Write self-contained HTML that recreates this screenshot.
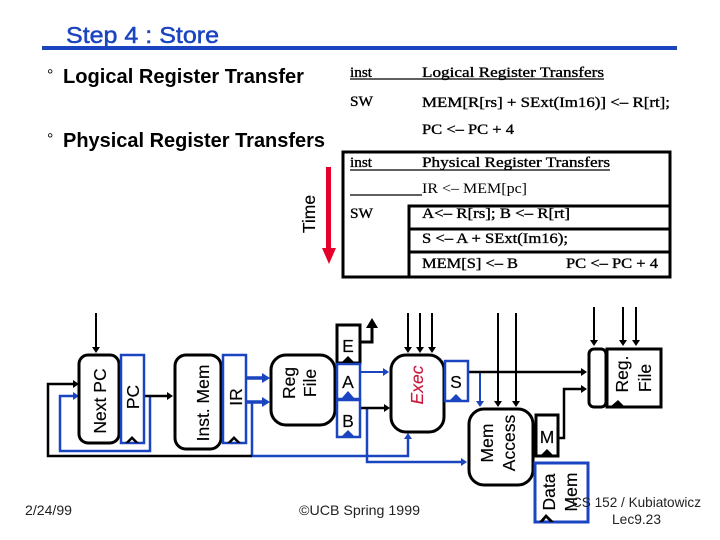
<!DOCTYPE html>
<html><head><meta charset="utf-8"><style>
html,body{margin:0;padding:0;background:#fff}
svg{display:block}
text{font-family:"Liberation Sans",sans-serif;fill:#000}
.t{font-family:"Liberation Serif",serif;font-size:14.5px;stroke:#000;stroke-width:.35}
.r{font-size:17.5px;text-anchor:middle;stroke:#000;stroke-width:.15}
.f{font-size:14px;fill:#222}
.k{fill:none;stroke:#000}
.b{fill:none;stroke:#1a44c0}
</style></head><body>
<svg width="720" height="540" viewBox="0 0 720 540" xmlns="http://www.w3.org/2000/svg">
<rect width="720" height="540" fill="#fff"/>
<text x="66" y="43" font-size="23.5" textLength="153" lengthAdjust="spacingAndGlyphs" style="fill:#1a44c0;stroke:#1a44c0;stroke-width:.5">Step 4 : Store</text>
<rect x="42" y="46" width="635" height="4" fill="#1a44c0"/>
<text x="47" y="80" font-size="16">°</text>
<text x="63" y="83" font-size="20" font-weight="bold" textLength="241" lengthAdjust="spacingAndGlyphs">Logical Register Transfer</text>
<text x="47" y="144" font-size="16">°</text>
<text x="63" y="147" font-size="20" font-weight="bold" textLength="262" lengthAdjust="spacingAndGlyphs">Physical Register Transfers</text>

<text class="t" x="350" y="77" textLength="22" lengthAdjust="spacingAndGlyphs">inst</text>
<text class="t" x="422" y="77" textLength="182" lengthAdjust="spacingAndGlyphs">Logical Register Transfers</text>
<line x1="350" y1="79" x2="604" y2="79" stroke="#000" stroke-width="1.2"/>
<text class="t" x="350" y="106" textLength="23" lengthAdjust="spacingAndGlyphs">SW</text>
<text class="t" x="422" y="107" textLength="248" lengthAdjust="spacingAndGlyphs">MEM[R[rs] + SExt(Im16)] &lt;– R[rt];</text>
<text class="t" x="422" y="134" textLength="92" lengthAdjust="spacingAndGlyphs">PC &lt;– PC + 4</text>

<g stroke="#000" stroke-width="3" fill="none">
<rect x="343" y="152" width="327" height="125"/>
<path d="M409 277V206H670M409 229H670M409 252H670"/>
</g>
<text class="t" x="350" y="167" textLength="22" lengthAdjust="spacingAndGlyphs">inst</text>
<text class="t" x="422" y="167" textLength="188" lengthAdjust="spacingAndGlyphs">Physical Register Transfers</text>
<line x1="350" y1="170" x2="610" y2="170" stroke="#000" stroke-width="1.2"/>
<text class="t" x="422" y="193" textLength="105" lengthAdjust="spacingAndGlyphs" style="stroke:none">IR &lt;– MEM[pc]</text>
<line x1="350" y1="195" x2="422" y2="195" stroke="#000" stroke-width="1.2"/>
<text class="t" x="350" y="218" textLength="23" lengthAdjust="spacingAndGlyphs">SW</text>
<text class="t" x="422" y="218" textLength="148" lengthAdjust="spacingAndGlyphs">A&lt;– R[rs]; B &lt;– R[rt]</text>
<text class="t" x="422" y="243" textLength="146" lengthAdjust="spacingAndGlyphs">S &lt;– A + SExt(Im16);</text>
<text class="t" x="422" y="268" textLength="96" lengthAdjust="spacingAndGlyphs">MEM[S] &lt;– B</text>
<text class="t" x="566" y="268" textLength="92" lengthAdjust="spacingAndGlyphs">PC &lt;– PC + 4</text>

<text class="r" transform="translate(315 214) rotate(-90)">Time</text>
<rect x="326" y="167" width="5" height="82" fill="#e4002b"/>
<polygon points="322,248 336,248 329,264" fill="#e4002b"/>

<!-- wires -->
<g class="b" stroke-width="2.5">
<path d="M150 396V451H60V396H74"/>
<path d="M252 402V456H408V438"/>
<path d="M367 408V462H462"/>
</g>
<g class="b" stroke-width="2">
<path d="M360 372H384"/><path d="M480 372V402"/>
</g>
<g class="b" stroke-width="3.5"><path d="M246 378H264M246 402H264"/></g>
<g class="k" stroke-width="2.5">
<path d="M252 456H48V384H74"/>
<path d="M145 396H168"/>
<path d="M360 408H384"/>
<path d="M468 372H582"/>
<path d="M558 438H564V389H582"/>
<path d="M360 342H372V324" stroke-width="3"/>
</g>
<g class="k" stroke-width="2">
<path d="M96 313V348M408 313V348M420 313V348M432 313V348M498 313V402M516 313V402M594 307V341M623 307V341M636 307V341"/>
</g>
<g fill="#000">
<polygon points="79,384 73,380 73,388"/><polygon points="173,396 167,392 167,400"/><polygon points="390,408 384,404 384,412"/><polygon points="587,372 581,368 581,376"/><polygon points="587,389 581,385 581,393"/>
<polygon points="372,318 366,328 378,328"/>
<polygon points="96,353 92,347 100,347"/><polygon points="408,353 404,347 412,347"/><polygon points="420,353 416,347 424,347"/><polygon points="432,353 428,347 436,347"/><polygon points="498,407 494,401 502,401"/><polygon points="516,407 512,401 520,401"/><polygon points="594,346 590,340 598,340"/><polygon points="623,346 619,340 627,340"/><polygon points="636,346 632,340 640,340"/>
</g>
<g fill="#1a44c0">
<polygon points="79,396 73,392 73,400"/><polygon points="270,378 262,373 262,383"/><polygon points="270,402 262,397 262,407"/><polygon points="389,372 383,368 383,376"/><polygon points="408,433 404,439 412,439"/><polygon points="467,462 461,458 461,466"/><polygon points="480,407 476,401 484,401"/>
</g>

<!-- boxes -->
<g fill="#fff" stroke="#000" stroke-width="3">
<rect x="79" y="355" width="40" height="88" rx="9"/>
<rect x="175" y="355" width="46" height="94" rx="11"/>
<rect x="271" y="355" width="64" height="70" rx="15"/>
<rect x="391" y="355" width="53" height="77" rx="15"/>
<rect x="469" y="409" width="64" height="76" rx="15"/>
<rect x="589" y="349" width="17" height="58" rx="5"/>
<rect x="607" y="349" width="54" height="58"/>
<rect x="536" y="415" width="22" height="41"/>
<rect x="337" y="325" width="23" height="38"/>
</g>
<g fill="#fff" stroke="#1a44c0" stroke-width="2.5">
<rect x="121" y="355" width="23" height="88"/>
<rect x="223" y="355" width="23" height="88"/>
<rect x="337" y="364" width="23" height="35"/>
<rect x="337" y="400" width="23" height="37"/>
<rect x="445" y="361" width="23" height="40"/>
<rect x="535" y="463" width="53" height="59" stroke-width="3"/>
</g>

<!-- clock chevrons -->
<g fill="#000">
<polygon points="125,443 132,436 139,443 135.500,443 132,439.500 128.500,443"/>
<polygon points="227,443 234,436 241,443 237.500,443 234,439.500 230.500,443"/>
<polygon points="341,363 348,356 355,363"/>
<polygon points="540,456 547,449 554,456"/>
<polygon points="539,522 546,514 554,522 550,522 546,518 543,522"/>
<polygon points="610,407 618,400 625,407"/>
</g>
<g fill="#1a44c0">
<polygon points="341,399 348,391 355,399"/>
<polygon points="341,437 348,430 355,437"/>
<polygon points="449,401 456,394 463,401"/>
</g>

<!-- labels -->
<text class="r" transform="translate(106 401) rotate(-90)">Next PC</text>
<text class="r" transform="translate(139 397) rotate(-90)">PC</text>
<text class="r" transform="translate(209 403) rotate(-90)">Inst. Mem</text>
<text class="r" transform="translate(242 397) rotate(-90)">IR</text>
<text class="r" transform="translate(295 383) rotate(-90)">Reg</text>
<text class="r" transform="translate(316 383) rotate(-90)">File</text>
<text class="r" x="348" y="352">E</text>
<text class="r" x="348" y="388">A</text>
<text class="r" x="348" y="427">B</text>
<text class="r" transform="translate(423 385) rotate(-90)" style="fill:#c8183c;stroke:#c8183c;font-style:italic">Exec</text>
<text class="r" x="456" y="388">S</text>
<text class="r" transform="translate(493 443) rotate(-90)">Mem</text>
<text class="r" transform="translate(515 443) rotate(-90)">Access</text>
<text class="r" x="547" y="443">M</text>
<text class="r" transform="translate(555 492) rotate(-90)">Data</text>
<text class="r" transform="translate(577 492) rotate(-90)">Mem</text>
<text class="r" transform="translate(628 374) rotate(-90)">Reg.</text>
<text class="r" transform="translate(651 378) rotate(-90)">File</text>

<text class="f" x="25" y="515" textLength="47" lengthAdjust="spacingAndGlyphs">2/24/99</text>
<text class="f" x="299" y="515" textLength="121" lengthAdjust="spacingAndGlyphs">©UCB Spring 1999</text>
<text class="f" x="572" y="507" textLength="129" lengthAdjust="spacingAndGlyphs">CS 152 / Kubiatowicz</text>
<text class="f" x="612" y="524" textLength="49" lengthAdjust="spacingAndGlyphs">Lec9.23</text>
</svg>
</body></html>
